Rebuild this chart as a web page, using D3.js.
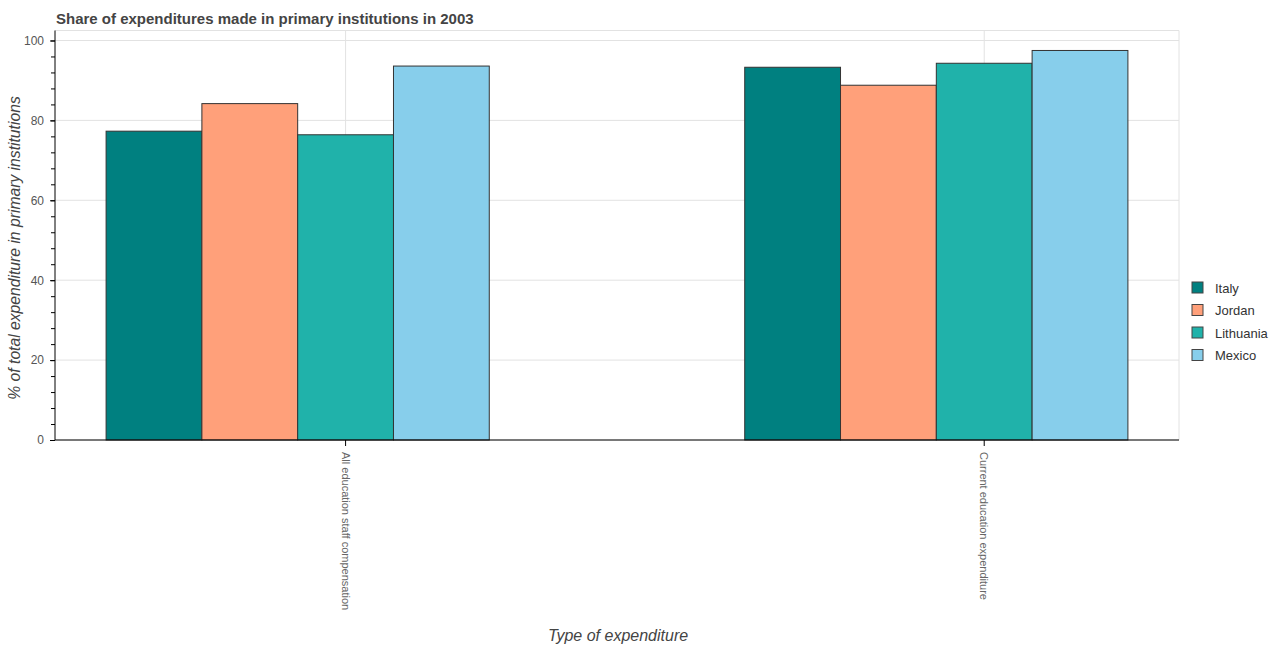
<!DOCTYPE html>
<html>
<head>
<meta charset="utf-8">
<script src="https://cdn.jsdelivr.net/npm/d3@7"></script>
<style>
  body { margin: 0; background: #fff; }
  text { font-family: "Liberation Sans", Arial, sans-serif; }
</style>
</head>
<body>
<script>
// data
const categories = ["All education staff compensation", "Current education expenditure"];
const countries = ["Italy", "Jordan", "Lithuania", "Mexico"];
const italy = [77.3, 93.3];
const jordan = [84.2, 88.8];
const lithuania = [76.4, 94.3];
const mexico = [93.6, 97.5];
const yTicks = [0, 20, 40, 60, 80, 100];
const colors = ["#008080", "#FFA07A", "#20B2AA", "#87CEEB"];

const series = [italy, jordan, lithuania, mexico];

const W = 1273, H = 650;
const pLeft = 55, pRight = 1179, pTop = 30.5, pBottom = 440;

const svg = d3.select("body")
  .append("svg")
  .attr("width", W)
  .attr("height", H);

// scales
const x0 = d3.scaleBand()
  .domain(categories)
  .range([pLeft, pRight])
  .paddingInner(0.4)
  .paddingOuter(0.08);

const x1 = d3.scaleBand()
  .domain(countries)
  .range([0, x0.bandwidth()]);

const y = d3.scaleLinear()
  .domain([0, 102.5])
  .range([pBottom, pTop]);

// tick sits under the middle of the 3rd bar
const tickX = c => x0(c) + x1("Lithuania") + x1.bandwidth() / 2;

// grid
svg.append("g")
  .selectAll("line")
  .data(yTicks)
  .join("line")
  .attr("x1", pLeft).attr("x2", pRight)
  .attr("y1", d => y(d)).attr("y2", d => y(d))
  .attr("stroke", "#e2e2e2");

svg.append("g")
  .selectAll("line")
  .data(categories)
  .join("line")
  .attr("x1", d => tickX(d)).attr("x2", d => tickX(d))
  .attr("y1", pTop).attr("y2", pBottom)
  .attr("stroke", "#e2e2e2");

// frame top/right
svg.append("path")
  .attr("d", `M${pLeft},${pTop}H${pRight}V${pBottom}`)
  .attr("fill", "none")
  .attr("stroke", "#e2e2e2");

// bars
const groups = svg.append("g")
  .selectAll("g")
  .data(categories)
  .join("g")
  .attr("transform", d => `translate(${x0(d)},0)`);

groups.selectAll("rect")
  .data((d, i) => countries.map((c, k) => ({ c: c, v: series[k][i], k: k })))
  .join("rect")
  .attr("x", d => x1(d.c))
  .attr("y", d => y(d.v))
  .attr("width", x1.bandwidth())
  .attr("height", d => pBottom - y(d.v))
  .attr("fill", d => colors[d.k])
  .attr("stroke", "#333")
  .attr("stroke-width", 1);

// y axis
const yAxis = svg.append("g")
  .attr("transform", `translate(${pLeft},0)`)
  .call(d3.axisLeft(y).tickValues(d3.range(0, 101, 4)).tickSize(4).tickFormat(""));
yAxis.select(".domain").remove();

const yAxis2 = svg.append("g")
  .attr("transform", `translate(${pLeft},0)`)
  .call(d3.axisLeft(y).tickValues(yTicks).tickSize(5).tickPadding(6));
yAxis2.select(".domain").remove();
yAxis2.selectAll("text").attr("fill", "#555").style("font-size", "12px");

svg.append("line")
  .attr("x1", pLeft).attr("x2", pLeft)
  .attr("y1", pTop).attr("y2", pBottom)
  .attr("stroke", "#000");

// x axis
svg.append("line")
  .attr("x1", pLeft).attr("x2", pRight)
  .attr("y1", pBottom).attr("y2", pBottom)
  .attr("stroke", "#000");

const xt = svg.append("g")
  .selectAll("g")
  .data(categories)
  .join("g")
  .attr("transform", d => `translate(${tickX(d)},${pBottom})`);

xt.append("line")
  .attr("y1", 0).attr("y2", 6)
  .attr("stroke", "#000");

xt.append("text")
  .attr("transform", "translate(0,12) rotate(90)")
  .attr("dy", "0.35em")
  .attr("text-anchor", "start")
  .attr("fill", "#666")
  .style("font-size", "11px")
  .text(d => d);

// titles
svg.append("text")
  .attr("x", 56)
  .attr("y", 24)
  .attr("fill", "#444")
  .style("font-size", "15px")
  .style("font-weight", "bold")
  .text("Share of expenditures made in primary institutions in 2003");

svg.append("text")
  .attr("transform", "translate(20,248) rotate(-90)")
  .attr("text-anchor", "middle")
  .attr("fill", "#444")
  .style("font-size", "15.7px")
  .style("font-style", "italic")
  .text("% of total expenditure in primary institutions");

svg.append("text")
  .attr("x", 618)
  .attr("y", 641)
  .attr("text-anchor", "middle")
  .attr("fill", "#444")
  .style("font-size", "16px")
  .style("font-style", "italic")
  .text("Type of expenditure");

// legend
const legend = svg.append("g")
  .selectAll("g")
  .data(countries)
  .join("g")
  .attr("transform", (d, i) => `translate(1192,${282 + i * 22.5})`);

legend.append("rect")
  .attr("width", 11).attr("height", 11)
  .attr("fill", (d, i) => colors[i])
  .attr("stroke", "#444");

legend.append("text")
  .attr("x", 23)
  .attr("y", 6)
  .attr("dy", "0.35em")
  .attr("fill", "#333")
  .style("font-size", "13px")
  .text(d => d);
</script>
</body>
</html>
